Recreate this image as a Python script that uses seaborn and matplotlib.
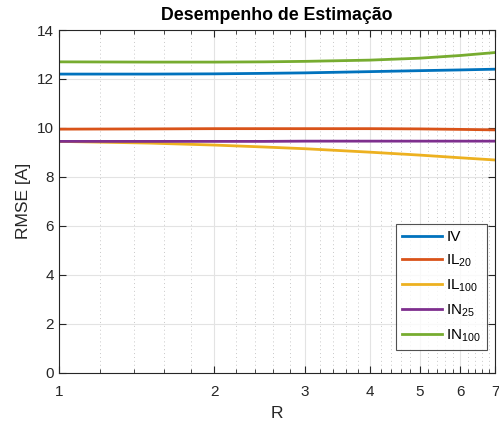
import numpy as np
import pandas as pd
import matplotlib
matplotlib.use("Agg")
import matplotlib.pyplot as plt
import seaborn as sns
from matplotlib.ticker import FixedLocator, NullFormatter

# Data
R = [1.0, 1.5, 2.0, 2.5, 3.0, 4.0, 5.0, 6.0, 7.0]
IV = [12.20, 12.20, 12.21, 12.23, 12.25, 12.30, 12.34, 12.37, 12.40]
IL20 = [9.95, 9.96, 9.97, 9.97, 9.97, 9.97, 9.96, 9.94, 9.92]
IL100 = [9.45, 9.38, 9.30, 9.22, 9.15, 9.01, 8.89, 8.78, 8.69]
IN25 = [9.45, 9.45, 9.45, 9.45, 9.46, 9.46, 9.46, 9.46, 9.46]
IN100 = [12.70, 12.69, 12.69, 12.70, 12.72, 12.77, 12.85, 12.96, 13.08]

series_names = ["IV", "IL20", "IL100", "IN25", "IN100"]
legend_labels = [r"IV", r"IL$_{20}$", r"IL$_{100}$", r"IN$_{25}$", r"IN$_{100}$"]
colors = ["#0072BD", "#D95319", "#EDB120", "#7E2F8E", "#77AC30"]

x_ticks = [1, 2, 3, 4, 5, 6, 7]
y_ticks = [0, 2, 4, 6, 8, 10, 12, 14]

df = pd.DataFrame({
    "R": R * 5,
    "RMSE": IV + IL20 + IL100 + IN25 + IN100,
    "serie": sum([[n] * len(R) for n in series_names], []),
})

plt.rcParams["font.family"] = ["Liberation Sans", "DejaVu Sans"]
plt.rcParams["mathtext.fontset"] = "custom"
plt.rcParams["mathtext.rm"] = "Liberation Sans"
plt.rcParams["mathtext.it"] = "Liberation Sans"
plt.rcParams["mathtext.default"] = "regular"

fig = plt.figure(figsize=(4.99, 4.23), dpi=100)
ax = fig.add_axes([0.118, 0.119, 0.874, 0.810])

sns.lineplot(data=df, x="R", y="RMSE", hue="serie", hue_order=series_names,
             palette=colors, linewidth=2.0, ax=ax, legend=False)

ax.set_xscale("log")
ax.set_xlim(1, 7)
ax.set_ylim(0, 14)
ax.xaxis.set_major_locator(FixedLocator(x_ticks))
ax.set_xticklabels([str(t) for t in x_ticks])
minor = [round(v, 1) for v in np.arange(1.2, 7.0, 0.2) if abs(v - round(v)) > 1e-6]
ax.xaxis.set_minor_locator(FixedLocator(minor))
ax.xaxis.set_minor_formatter(NullFormatter())
ax.set_yticks(y_ticks)
ax.set_yticklabels([str(t) for t in y_ticks])

ax.grid(True, which="major", color="#e3e3e3", linewidth=0.8, linestyle="-")
ax.grid(True, which="minor", axis="x", color="#c8c8c8", linewidth=0.7, linestyle=(0, (1, 3)))
ax.set_axisbelow(True)

ax.tick_params(which="both", direction="in", top=True, right=True, colors="#262626",
               labelsize=11, labelcolor="#262626")
ax.tick_params(which="major", length=5, width=0.8)
ax.tick_params(which="minor", length=3, width=0.6)
ax.tick_params(axis="x", which="major", pad=9)
for s in ax.spines.values():
    s.set_color("#262626")
    s.set_linewidth(0.8)

ax.set_xlabel("R", fontsize=12.5, color="#262626", labelpad=5)
ax.set_ylabel("RMSE [A]", fontsize=12.5, color="#262626", labelpad=4)
ax.set_title("Desempenho de Estimação", fontsize=12.8, fontweight="bold", pad=7)

handles = [plt.Line2D([0], [0], color=c, linewidth=2.0) for c in colors]
leg = ax.legend(handles, legend_labels, loc="lower right", fontsize=11,
                frameon=True, fancybox=False, edgecolor="#262626",
                handlelength=2.6, handletextpad=0.3, labelspacing=0.55,
                borderpad=0.4, borderaxespad=0, bbox_to_anchor=(0.982, 0.067))
leg.get_frame().set_linewidth(0.8)

fig.savefig("out.png", dpi=100)
